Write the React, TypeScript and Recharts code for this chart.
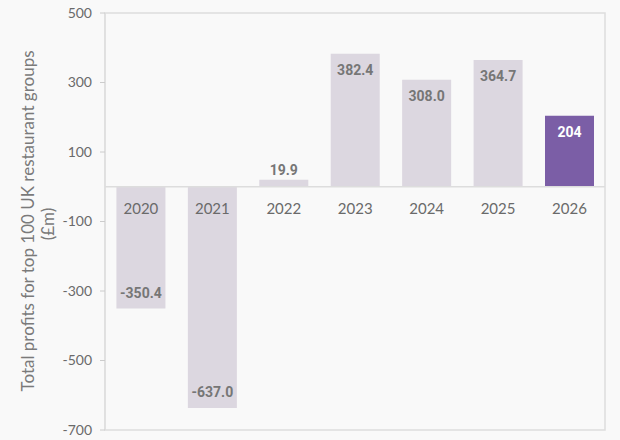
import { BarChart, Bar, XAxis, YAxis, Cell, LabelList, ReferenceLine, ReferenceArea } from "recharts";

const years = ["2020", "2021", "2022", "2023", "2024", "2025", "2026"];
const profits = [-350.4, -637.0, 19.9, 382.4, 308.0, 364.7, 204];
const valueLabels = ["-350.4", "-637.0", "19.9", "382.4", "308.0", "364.7", "204"];
const yTicks = [-700, -500, -300, -100, 100, 300, 500];

const data = years.map((year, i) => ({ year, profit: profits[i], label: valueLabels[i] }));

const FONT = "Lato, 'Noto Sans', sans-serif";
const BOLD_FONT = "Roboto, 'Noto Sans', sans-serif";
const BAR = "#dcd7e0";
const HIGHLIGHT = "#7b5ea6";

const ValueLabel = (props: any) => {
  const { x, y, width, height, index } = props;
  const d = data[index];
  const top = Math.min(y, y + height);
  const bottom = Math.max(y, y + height);
  const h = bottom - top;
  let ly: number;
  if (d.profit >= 0) ly = h < 30 ? top - 10 : top + 16;
  else ly = h < 30 ? bottom + 12 : bottom - 16;
  const last = index === data.length - 1;
  return (
    <text x={x + width / 2} y={ly} textAnchor="middle" dominantBaseline="central"
      fontFamily={BOLD_FONT} fontSize={14} fontWeight={700} fill={last ? "#ffffff" : "#767676"}>
      {d.label}
    </text>
  );
};

const YearLabel = (props: any) => {
  const { x, y, width, height, index } = props;
  const d = data[index];
  const zeroY = d.profit >= 0 ? Math.max(y, y + height) : Math.min(y, y + height);
  return (
    <text x={x + width / 2} y={zeroY + 21} textAnchor="middle" dominantBaseline="central"
      fontFamily={FONT} fontSize={15} fill="#6a6a6a">
      {d.year}
    </text>
  );
};

const AxisTitle = () => (
  <g fontFamily={FONT} fontSize={17} fill="#7a7a7a">
    <text x={27} y={221} textAnchor="middle" dominantBaseline="central" transform="rotate(-90 27 221)">
      Total profits for top 100 UK restaurant groups
    </text>
    <text x={47} y={224} textAnchor="middle" dominantBaseline="central" transform="rotate(-90 47 224)">
      (£m)
    </text>
  </g>
);

export default function App() {
  return (
    <div style={{ position: "fixed", left: 0, top: 0, width: 620, height: 440, background: "#f9f9f9" }}>
      <BarChart width={620} height={440} data={data} margin={{ top: 13, right: 15, bottom: 10, left: 0 }}
        barCategoryGap="16%">
        <XAxis dataKey="year" hide />
        <YAxis
          domain={[-700, 500]}
          ticks={yTicks}
          width={105}
          axisLine={{ stroke: "#dddddd" }}
          tickLine={{ stroke: "#cccccc" }}
          tickSize={5}
          tickMargin={8}
          tick={{ fill: "#6a6a6a", fontSize: 14, fontFamily: FONT }}
          label={<AxisTitle />}
        />
        <ReferenceArea y1={-700} y2={500} fill="none" stroke="#dddddd" strokeWidth={1.5} />
        <Bar dataKey="profit" isAnimationActive={false}>
          {data.map((d, i) => (
            <Cell key={d.year} fill={i === data.length - 1 ? HIGHLIGHT : BAR} />
          ))}
          <LabelList dataKey="label" content={ValueLabel} />
          <LabelList dataKey="year" content={YearLabel} />
        </Bar>
        <ReferenceLine y={0} stroke="#dddddd" strokeWidth={1.5} />
      </BarChart>
    </div>
  );
}
